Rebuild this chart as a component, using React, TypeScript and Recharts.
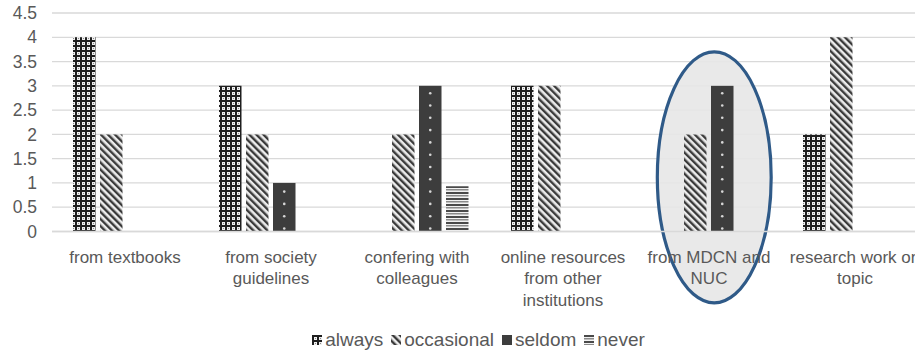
import React from 'react';
import {
  BarChart, Bar, XAxis, YAxis, CartesianGrid, ReferenceArea,
} from 'recharts';

// ── Data ───────────────────────────────────────────────────

const categories = [
  'from textbooks',
  'from society\nguidelines',
  'confering with\ncolleagues',
  'online resources\nfrom other\ninstitutions',
  'from MDCN and\nNUC',
  'research work on\ntopic',
];
const always = [4, 3, 0, 3, 0, 2];
const occasional = [2, 2, 2, 3, 2, 4];
const seldom = [0, 1, 3, 0, 3, 0];
const never = [0, 0, 0.93, 0, 0, 0];
const yTicks = [0, 0.5, 1, 1.5, 2, 2.5, 3, 3.5, 4, 4.5];

const highlighted = 'from MDCN and\nNUC';

const rows = categories.map((name, i) => ({
  name,
  always: always[i],
  occasional: occasional[i],
  seldom: seldom[i],
  never: never[i],
}));

// ── Styles ─────────────────────────────────────────────────

const FONT = '"Liberation Sans", Arial, sans-serif';
const TEXT = '#595959';
const GRID = '#d9d9d9';
const SELDOM_FILL = '#3d3d3d';

const series = [
  { key: 'always', label: 'always', fill: 'url(#pAlways)' },
  { key: 'occasional', label: 'occasional', fill: 'url(#pOccasional)' },
  { key: 'seldom', label: 'seldom', fill: SELDOM_FILL },
  { key: 'never', label: 'never', fill: 'url(#pNever)' },
];

// ── Custom pieces ──────────────────────────────────────────

const XTick = ({ x, y, payload }: any) => {
  const lines = String(payload.value).split('\n');
  return (
    <text x={x} y={y} textAnchor="middle" fill={TEXT} fontSize={17} fontFamily={FONT}>
      {lines.map((l, i) => (
        <tspan key={i} x={x} dy={i === 0 ? 23 : 21.5}>{l}</tspan>
      ))}
    </text>
  );
};

const YTick = ({ x, y, payload }: any) => (
  <text x={x} y={y} dy={6.2} textAnchor="end" fill={TEXT} fontSize={17.5} fontFamily={FONT}>
    {payload.value}
  </text>
);

// dark bar with a column of white dots
const SeldomShape = (props: any) => {
  const { x, y, width, height } = props;
  if (!height || height <= 0) return null;
  const dots: number[] = [];
  for (let cy = y + height - 3; cy > y + 4; cy -= 12.3) dots.push(cy);
  return (
    <g>
      <rect x={x} y={y} width={width} height={height} fill={SELDOM_FILL} />
      {dots.map((cy, i) => (
        <circle key={i} cx={x + width / 2} cy={cy} r={1.3} fill="#d6d6d6" />
      ))}
    </g>
  );
};

const EllipseShape = (props: any) => {
  const { x, y, width, height } = props;
  return (
    <ellipse
      cx={x + width * 0.536}
      cy={y + height / 2}
      rx={width * 0.39}
      ry={height / 2}
      fill="#e7e7e7"
      fillOpacity={0.9}
      stroke="#2f5a88"
      strokeWidth={3.2}
    />
  );
};

const ChartLegend = () => (
  <div style={{
    position: 'absolute', left: 0, top: 328, width: 957, height: 24,
    display: 'flex', justifyContent: 'center', alignItems: 'center', gap: 8,
    fontSize: 19, lineHeight: '24px', color: TEXT, fontFamily: FONT,
  }}>
    {series.map((s) => (
      <span key={s.key} style={{ display: 'flex', alignItems: 'center', gap: 3 }}>
        <svg width={10} height={10}><rect width={10} height={10} fill={s.fill} /></svg>
        {s.label}
      </span>
    ))}
  </div>
);

// ── Chart ──────────────────────────────────────────────────

export default function App() {
  return (
    <div style={{ position: 'fixed', top: 0, left: 0, width: 915, height: 353, overflow: 'hidden', background: '#fff' }}>
      <BarChart
        width={932}
        height={353}
        data={rows}
        margin={{ top: 13, right: 4, left: 0, bottom: 31.5 }}
        barSize={22.5}
        barGap={4.5}
      >
        <defs>
          <pattern id="pAlways" width="5" height="5" patternUnits="userSpaceOnUse">
            <rect width="5" height="5" fill="#f0f0f0" />
            <rect x="0" y="0" width="2" height="5" fill="#1e1e1e" />
            <rect x="0" y="0" width="5" height="2" fill="#1e1e1e" />
            <rect x="3" y="3" width="1" height="1" fill="#8a8a8a" />
          </pattern>
          <pattern id="pOccasional" width="5" height="5" patternUnits="userSpaceOnUse" patternTransform="rotate(-45)">
            <rect width="5" height="5" fill="#ececec" />
            <rect x="0" y="0" width="2.4" height="5" fill="#3a3a3a" />
          </pattern>
          <pattern id="pNever" width="6" height="6" patternUnits="userSpaceOnUse">
            <rect width="6" height="6" fill="#f2f2f2" />
            <rect x="0" y="0" width="6" height="2" fill="#4a4a4a" />
            <rect x="0" y="3" width="6" height="1.5" fill="#8a8a8a" />
          </pattern>
        </defs>
        <CartesianGrid vertical={false} stroke={GRID} strokeWidth={1.3} />
        <XAxis
          dataKey="name"
          interval={0}
          height={90}
          tick={<XTick />}
          tickLine={false}
          axisLine={{ stroke: GRID, strokeWidth: 1.3 }}
        />
        <YAxis
          width={52}
          domain={[0, 4.5]}
          ticks={yTicks}
          interval={0}
          tickLine={false}
          axisLine={false}
          tickMargin={9}
          tick={<YTick />}
        />
        <ReferenceArea
          x1={highlighted}
          x2={highlighted}
          y1={-1.47}
          y2={3.7}
          ifOverflow="visible"
          shape={<EllipseShape />}
        />
        <Bar dataKey="always" name="always" fill="url(#pAlways)" isAnimationActive={false} />
        <Bar dataKey="occasional" name="occasional" fill="url(#pOccasional)" isAnimationActive={false} />
        <Bar dataKey="seldom" name="seldom" fill={SELDOM_FILL} shape={<SeldomShape />} isAnimationActive={false} />
        <Bar dataKey="never" name="never" fill="url(#pNever)" isAnimationActive={false} />
      </BarChart>
      <ChartLegend />
    </div>
  );
}
